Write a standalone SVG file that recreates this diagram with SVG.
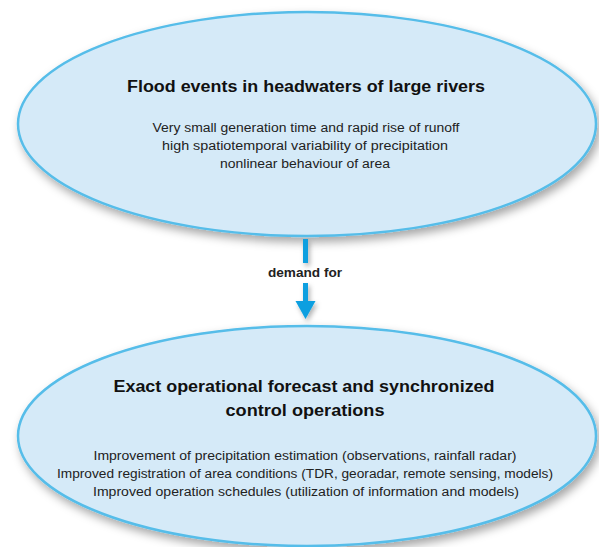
<svg xmlns="http://www.w3.org/2000/svg" width="599" height="547" viewBox="0 0 599 547">
<defs>
<filter id="sh" x="-10%" y="-10%" width="125%" height="130%">
<feDropShadow dx="3" dy="5" stdDeviation="5" flood-color="#000" flood-opacity="0.35"/>
</filter>
<filter id="sh2" x="-50%" y="-20%" width="200%" height="150%">
<feDropShadow dx="2" dy="3" stdDeviation="2.5" flood-color="#000" flood-opacity="0.3"/>
</filter>
</defs>
<style>
.node ellipse{fill:#d5eaf8;stroke:#56bde9;stroke-width:2.5}
.title{font-family:"Liberation Sans",Arial,sans-serif;font-weight:bold;font-size:16px;fill:#111;text-anchor:middle}
.body{font-family:"Liberation Sans",Arial,sans-serif;font-size:12px;fill:#222;text-anchor:middle}
.lbl{font-family:"Liberation Sans",Arial,sans-serif;font-weight:bold;font-size:12px;fill:#222;text-anchor:middle}
.conn line{stroke:#0a9fe0;stroke-width:5}
.conn polygon{fill:#0a9fe0}
</style>
<rect width="599" height="547" fill="#fff"/>
<g id="node-flood" class="node">
<ellipse cx="307" cy="124" rx="289" ry="112" filter="url(#sh)"/>
<text class="title" x="306" y="92" textLength="358" lengthAdjust="spacingAndGlyphs">Flood events in headwaters of large rivers</text>
<text class="body" x="306" y="132" textLength="307" lengthAdjust="spacingAndGlyphs">Very small generation time and rapid rise of runoff</text>
<text class="body" x="305" y="150" textLength="286" lengthAdjust="spacingAndGlyphs">high spatiotemporal variability of precipitation</text>
<text class="body" x="305" y="168" textLength="170" lengthAdjust="spacingAndGlyphs">nonlinear behaviour of area</text>
</g>
<g id="connectors" class="conn">
<g filter="url(#sh2)">
<line x1="305.5" y1="239" x2="305.5" y2="263"/>
<line x1="305.5" y1="283" x2="305.5" y2="303"/>
<polygon points="295.5,301 315.5,301 305.5,319"/>
</g>
<text class="lbl" x="305" y="277" textLength="74" lengthAdjust="spacingAndGlyphs">demand for</text>
</g>
<g id="node-forecast" class="node">
<ellipse cx="307" cy="436" rx="289" ry="110" filter="url(#sh)"/>
<text class="title" x="304" y="392" textLength="381" lengthAdjust="spacingAndGlyphs">Exact operational forecast and synchronized</text>
<text class="title" x="305" y="416" textLength="159" lengthAdjust="spacingAndGlyphs">control operations</text>
<text class="body" x="305" y="460" textLength="423" lengthAdjust="spacingAndGlyphs">Improvement of precipitation estimation (observations, rainfall radar)</text>
<text class="body" x="305" y="478" textLength="496" lengthAdjust="spacingAndGlyphs">Improved registration of area conditions (TDR, georadar, remote sensing, models)</text>
<text class="body" x="306" y="496" textLength="426" lengthAdjust="spacingAndGlyphs">Improved operation schedules (utilization of information and models)</text>
</g>
</svg>
